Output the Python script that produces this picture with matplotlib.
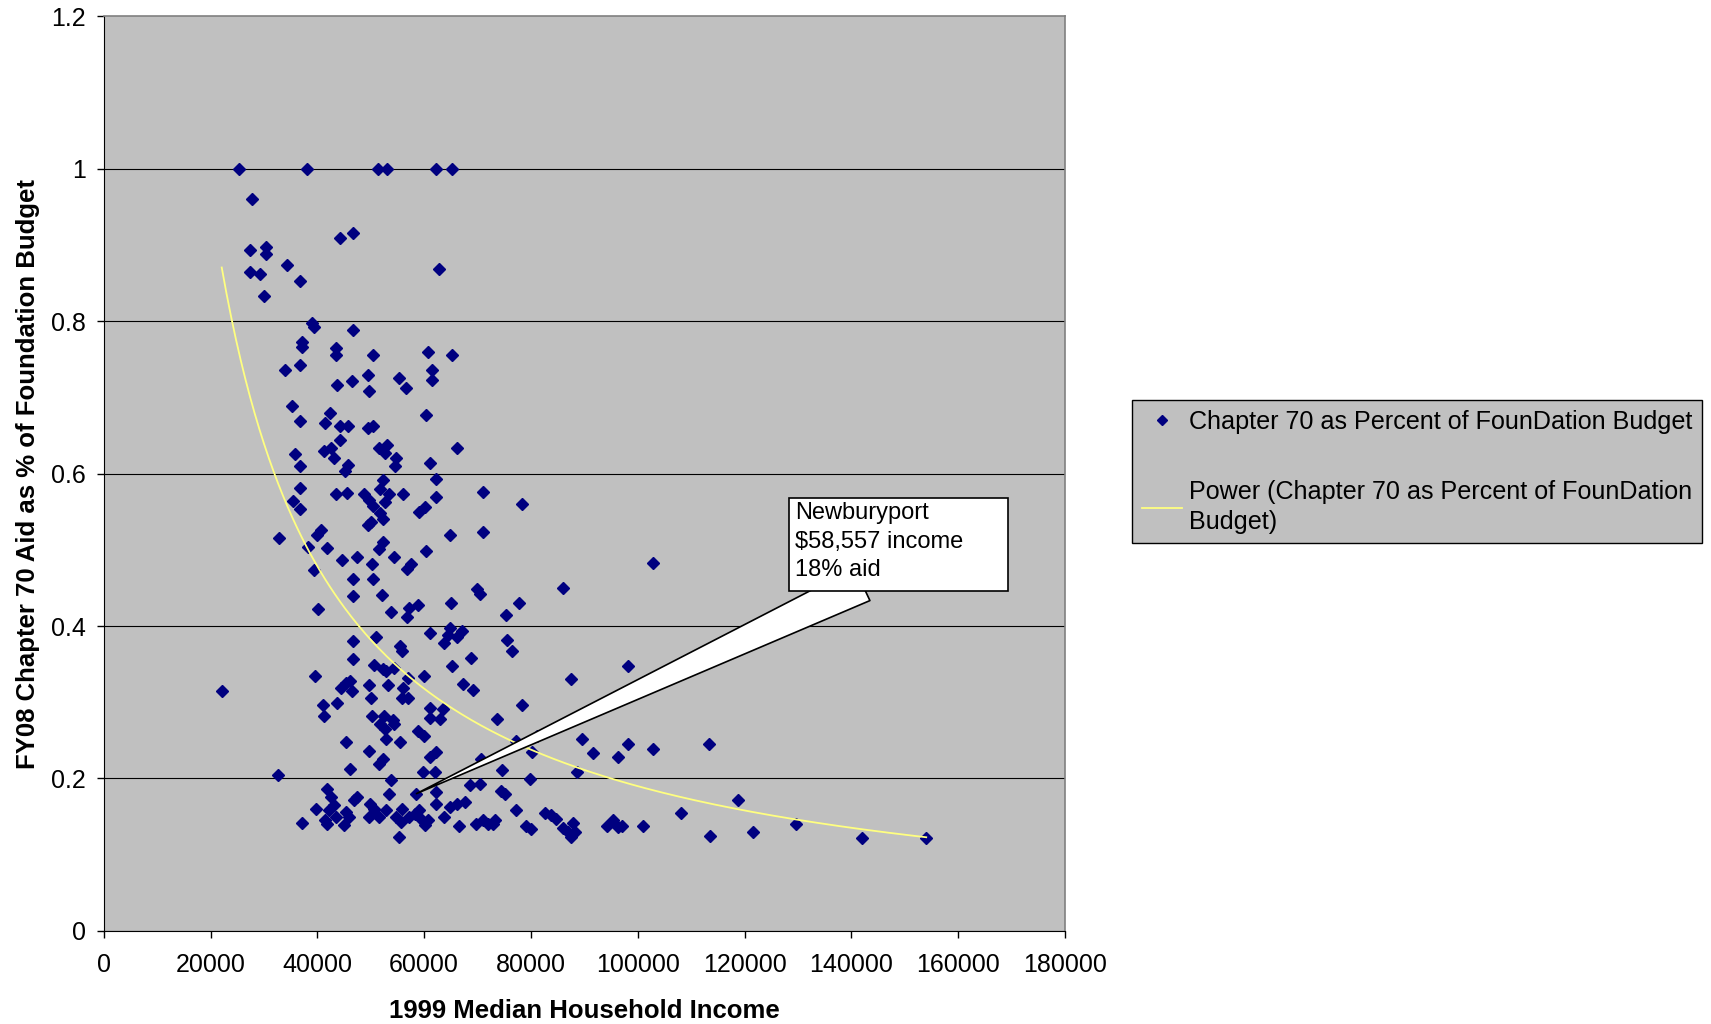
import matplotlib
matplotlib.use("Agg")
import matplotlib.pyplot as plt
from matplotlib.patches import Rectangle
import numpy as np

# 1999 median household income (dollars) and FY08 Chapter 70 aid share, one pair per town
income = [
    25300, 38000, 51300, 53000, 62300, 65200, 27800, 27400, 30400, 30400,
    27400, 29200, 34300, 36800, 30000, 44300, 46600, 62700, 39000, 39400,
    46600, 37200, 37200, 43500, 43500, 50500, 60700, 65200, 36800, 33900,
    61500, 61500, 46400, 43700, 49400, 55200, 56600, 49600, 35300, 36800,
    41500, 42300, 60300, 44300, 45800, 49400, 50500, 44300, 66200, 51500,
    53100, 52700, 54800, 54600, 41300, 42500, 35800, 36800, 43100, 45100,
    45800, 61100, 52300, 62300, 51700, 36800, 43500, 45600, 48800, 53500,
    56000, 71100, 35500, 36800, 49600, 50500, 52700, 51700, 59000, 60100,
    62300, 78400, 52300, 49400, 50000, 71100, 40600, 40000, 32900, 64800,
    38200, 41900, 52300, 51500, 60300, 102800, 44700, 47400, 57600, 56800,
    50300, 54300, 39400, 46600, 50500, 69900, 70500, 86000, 40200, 46600,
    52100, 53700, 57200, 56800, 58800, 65000, 77800, 75400, 64800, 64400,
    61100, 67000, 66200, 63700, 50900, 46600, 75600, 76400, 55400, 55800,
    68800, 46600, 98100, 50700, 65200, 52300, 52900, 54300, 39600, 59900,
    57000, 87400, 45400, 46200, 49600, 44500, 46400, 67200, 69100, 22100,
    53300, 56000, 55800, 78400, 41100, 43700, 57000, 61100, 50000, 63500,
    61100, 50300, 41300, 52500, 54100, 51700, 52700, 54300, 62900, 58800,
    73700, 81100, 89500, 52900, 55400, 45400, 59900, 98100, 113400, 77200,
    49600, 62300, 80200, 91700, 102800, 96200, 52300, 70700, 61100, 46200,
    51500, 32700, 59700, 62100, 88700, 74500, 79800, 53700, 118700, 41900,
    53500, 58557, 62300, 68500, 70500, 74400, 75200, 42500, 43100, 46800,
    47400, 42100, 39800, 49800, 50700, 59000, 52900, 55800, 62300, 64800,
    66200, 67600, 77200, 43500, 45400, 46000, 41500, 41900, 49600, 51500,
    54800, 55600, 57200, 58200, 59400, 60700, 60100, 63700, 37200, 44900,
    66600, 69700, 71100, 71900, 72900, 73300, 82700, 83700, 79000, 80000,
    84600, 86000, 86900, 87800, 88200, 87400, 94200, 95400, 96200, 97000,
    100900, 108100, 113600, 121600, 129700, 142000, 154000, 55200,
]
aid_share = [
    1.000, 1.000, 1.000, 1.000, 1.000, 1.000, 0.960, 0.894, 0.898, 0.888,
    0.864, 0.862, 0.874, 0.853, 0.833, 0.909, 0.916, 0.868, 0.798, 0.792,
    0.789, 0.773, 0.766, 0.765, 0.755, 0.755, 0.759, 0.756, 0.743, 0.736,
    0.736, 0.723, 0.722, 0.716, 0.730, 0.725, 0.712, 0.709, 0.689, 0.669,
    0.666, 0.680, 0.677, 0.663, 0.663, 0.660, 0.663, 0.644, 0.633, 0.633,
    0.637, 0.627, 0.620, 0.610, 0.630, 0.634, 0.626, 0.610, 0.620, 0.603,
    0.611, 0.614, 0.591, 0.593, 0.580, 0.581, 0.573, 0.574, 0.573, 0.573,
    0.573, 0.576, 0.564, 0.553, 0.566, 0.558, 0.563, 0.548, 0.550, 0.556,
    0.569, 0.560, 0.540, 0.533, 0.537, 0.523, 0.526, 0.520, 0.516, 0.520,
    0.504, 0.503, 0.510, 0.501, 0.498, 0.483, 0.487, 0.491, 0.481, 0.475,
    0.481, 0.491, 0.473, 0.462, 0.462, 0.448, 0.442, 0.450, 0.422, 0.440,
    0.441, 0.419, 0.424, 0.412, 0.427, 0.430, 0.430, 0.415, 0.397, 0.388,
    0.391, 0.394, 0.385, 0.378, 0.385, 0.380, 0.382, 0.367, 0.374, 0.367,
    0.358, 0.357, 0.348, 0.349, 0.348, 0.344, 0.341, 0.345, 0.335, 0.334,
    0.332, 0.331, 0.325, 0.328, 0.322, 0.319, 0.315, 0.324, 0.316, 0.315,
    0.322, 0.319, 0.305, 0.296, 0.296, 0.299, 0.306, 0.293, 0.305, 0.291,
    0.279, 0.282, 0.282, 0.282, 0.276, 0.271, 0.265, 0.271, 0.278, 0.262,
    0.278, 0.256, 0.252, 0.252, 0.248, 0.248, 0.255, 0.245, 0.245, 0.249,
    0.236, 0.235, 0.235, 0.233, 0.239, 0.228, 0.226, 0.226, 0.228, 0.212,
    0.219, 0.205, 0.209, 0.208, 0.209, 0.211, 0.199, 0.198, 0.172, 0.186,
    0.180, 0.180, 0.182, 0.192, 0.193, 0.183, 0.180, 0.176, 0.165, 0.172,
    0.175, 0.159, 0.160, 0.166, 0.160, 0.158, 0.159, 0.160, 0.166, 0.162,
    0.166, 0.169, 0.158, 0.150, 0.156, 0.149, 0.146, 0.140, 0.149, 0.149,
    0.149, 0.143, 0.149, 0.153, 0.147, 0.145, 0.139, 0.149, 0.142, 0.139,
    0.137, 0.140, 0.145, 0.140, 0.140, 0.145, 0.155, 0.152, 0.137, 0.133,
    0.147, 0.135, 0.130, 0.142, 0.130, 0.123, 0.137, 0.145, 0.136, 0.137,
    0.137, 0.155, 0.125, 0.130, 0.140, 0.122, 0.122, 0.123,
]

x_ticks = [0, 20000, 40000, 60000, 80000, 100000, 120000, 140000, 160000, 180000]
y_ticks = [0, 0.2, 0.4, 0.6, 0.8, 1.0, 1.2]

town_name = "Newburyport"
town_income = 58557
town_aid = 0.18

plt.rcParams['font.family'] = ['Liberation Sans', 'DejaVu Sans']

fig = plt.figure(figsize=(17.11, 10.24), dpi=100)
ax = fig.add_axes([0.0606, 0.0910, 0.5619, 0.893])
ax.set_facecolor('#C0C0C0')

x = np.array(income, dtype=float)
y = np.array(aid_share)
ax.plot(x, y, linestyle='none', marker='D', ms=6.6, color='#000080', mec='#000080',
        label='Chapter 70 as Percent of FounDation Budget', zorder=3)

# power trendline, least squares on log-log like Excel does
b, log_a = np.polyfit(np.log(x), np.log(y), 1)
xs = np.linspace(x.min(), x.max(), 300)
ax.plot(xs, np.exp(log_a) * xs ** b, color='#FFFF80', lw=1.3,
        label='Power (Chapter 70 as Percent of FounDation\nBudget)', zorder=4)

ax.set_xlim(0, 180000)
ax.set_ylim(0, 1.2)
ax.set_xticks(x_ticks)
ax.set_xticklabels([str(v) for v in x_ticks])
ax.set_yticks(y_ticks)
ax.set_yticklabels([f'{v:g}' for v in y_ticks])
ax.tick_params(axis='both', direction='out', length=5, width=1, labelsize=18, color='black')
ax.tick_params(axis='x', pad=11)
ax.tick_params(axis='y', pad=8)

ax.yaxis.grid(True, color='black', lw=0.8)
ax.yaxis.get_gridlines()[-1].set_visible(False)
ax.set_axisbelow(True)
for side in ['left', 'bottom']:
    ax.spines[side].set_color('black')
for side in ['top', 'right']:
    ax.spines[side].set_color('#808080')
    ax.spines[side].set_linewidth(1.2)

ax.set_xlabel('1999 Median Household Income', fontsize=18.5, fontweight='bold')
ax.xaxis.set_label_coords(0.5, -0.088)
ax.xaxis.label.set_verticalalignment('center')
ax.set_ylabel('FY08 Chapter 70 Aid as % of Foundation Budget', fontsize=18.5, fontweight='bold')
ax.yaxis.set_label_coords(-0.0784, 0.5)
ax.yaxis.label.set_verticalalignment('center')

# callout for Newburyport
ax.annotate('', xy=(town_income, town_aid), xytext=(0.789, 0.3790), textcoords='axes fraction',
            arrowprops=dict(arrowstyle='wedge,tail_width=1.3,shrink_factor=0.5', mutation_scale=20,
                            fc='white', ec='black', lw=1.2, shrinkA=0, shrinkB=0),
            zorder=5)
ax.add_patch(Rectangle((0.713, 0.3716), 0.2278, 0.1017, transform=ax.transAxes,
                       fc='white', ec='black', lw=1.2, zorder=6))
ax.text(0.7191, 0.4685, f'{town_name}\n${town_income:,} income\n{round(town_aid * 100)}% aid',
        transform=ax.transAxes, va='top', ha='left', fontsize=17, linespacing=1.36,
        zorder=7, parse_math=False)

leg = ax.legend(loc='upper left', bbox_to_anchor=(1132 / 1711, 1 - 400 / 1024),
                bbox_transform=fig.transFigure, borderaxespad=0, frameon=True, fancybox=False,
                facecolor='#C0C0C0', edgecolor='black', framealpha=1, fontsize=18.1,
                handlelength=1.6, handletextpad=0.3, labelspacing=1.85, borderpad=0.38,
                numpoints=1, markerscale=0.8)
leg.get_frame().set_linewidth(1)
for t in leg.get_texts():
    t.set_linespacing(1.3)

fig.savefig('out.png', dpi=100)
